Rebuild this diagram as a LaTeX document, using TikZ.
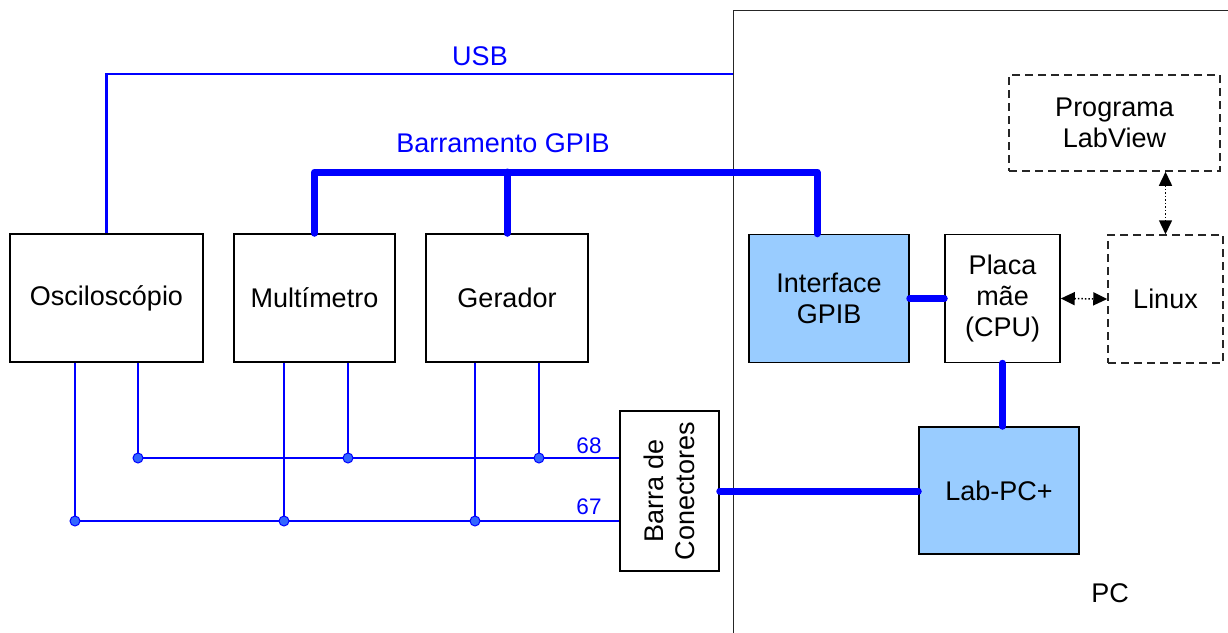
\documentclass[tikz,border=0pt]{standalone}
\usepackage{fontspec}
\setmainfont{Liberation Sans}
\usetikzlibrary{arrows.meta,calc}
\definecolor{azulFio}{HTML}{0000FF}
\definecolor{azulClaro}{HTML}{99CCFF}
\definecolor{azulPonto}{HTML}{3366FF}

\begin{document}
\begin{tikzpicture}[x=1pt,y=-1pt,
  caixa/.style={draw=black,line width=1.5pt,fill=white,inner sep=0pt,
                minimum width=#1,minimum height=128pt,align=center,
                font=\fontsize{27}{31}\selectfont},
  caixa/.default=160pt,
  caixaAzul/.style={caixa=#1,fill=azulClaro},
  tracejada/.style={caixa=#1,draw=black!85,dash pattern=on 8pt off 5pt},
  fio/.style={azulFio,line width=2.3pt},
  barramento/.style={azulFio,line width=7pt,line cap=round,line join=round},
  ponto/.style={circle,draw=azulFio,fill=azulPonto,line width=1pt,
                inner sep=0pt,minimum size=10pt},
  seta/.style={{Triangle[length=14pt,width=13pt]}-{Triangle[length=14pt,width=13pt]},
               dotted,line width=1.5pt},
  rotulo/.style={azulFio,inner sep=0pt,font=\fontsize{27}{31}\selectfont},
  numero/.style={azulFio,inner sep=0pt,font=\fontsize{22.5}{26}\selectfont}]
\useasboundingbox (0,0) rectangle (1228,632);

% moldura do PC (sai da pagina pela direita e por baixo)
\node[draw=black!85,line width=1.2pt,anchor=north west,inner sep=0pt,
      minimum width=700pt,minimum height=800pt] (pc) at (733,10) {};
\node[inner sep=0pt,font=\fontsize{27}{31}\selectfont] (pcnome) at (1110,593) {PC};

% instrumentos
\node[caixa=193pt] (osc) at (106.5,298) {Osciloscópio};
\node[caixa=161pt] (mult) at (314.5,298) {Multímetro};
\node[caixa=162pt] (ger) at (507,298) {Gerador};

% dentro do PC
\node[caixaAzul=160pt] (gpib) at (829,298.5) {Interface\\GPIB};
\node[caixa=115pt] (cpu) at (1002.5,298.5) {Placa\\mãe\\(CPU)};
\node[tracejada=115pt] (linux) at (1165.5,299) {Linux};
\node[tracejada=211pt,minimum height=96pt] (labview) at (1114.5,123) {Programa\\LabView};
\node[caixaAzul=160pt,minimum height=127pt] (labpc) at (999,490.5) {Lab-PC+};

% barra de conectores
\node[caixa=99pt,minimum height=160pt] (barra) at (669.5,491) {};
\node[rotate=90,align=center,inner sep=0pt,font=\fontsize{27}{31}\selectfont]
  (barranome) at (barra) {Barra de\\Conectores};

% USB
\draw[fio] (osc.north) |- (pc.west |- 0,74);
\node[rotulo] (usb) at (480,56) {USB};

% barramento GPIB
\coordinate (gpibbus) at (817,172);
\draw[barramento] (mult.north) |- (gpibbus) -- (gpibbus |- gpib.north);
\draw[barramento] (ger.north) -- (ger.north |- gpibbus);
\node[rotulo] (nomegpib) at (503,143) {Barramento GPIB};

% ligacoes internas
\draw[barramento] (gpib.east) -- (cpu.west);
\draw[barramento] (cpu.south) -- (cpu.south |- labpc.north);
\draw[barramento] (barra.east) -- (barra.east -| labpc.west);
\draw[seta] (cpu.east) -- (linux.west);
\draw[seta] (linux.north |- labview.south) -- (linux.north);

% linhas 68 e 67
\coordinate (b68) at (138,458);
\coordinate (b67) at (75,521);
\draw[fio] (b68) -- (b68 -| barra.west);
\draw[fio] (b67) -- (b67 -| barra.west);
\node[numero] (n68) at (589,446) {68};
\node[numero] (n67) at (589,507) {67};
\foreach \xa/\xb/\n in {75/138/osc,284/348/mult,475/539/ger}{
  \draw[fio] (\n.south -| \xa,0) -- (\xa,0 |- b67) node[ponto]{};
  \draw[fio] (\n.south -| \xb,0) -- (\xb,0 |- b68) node[ponto]{};
}
\end{tikzpicture}
\end{document}
